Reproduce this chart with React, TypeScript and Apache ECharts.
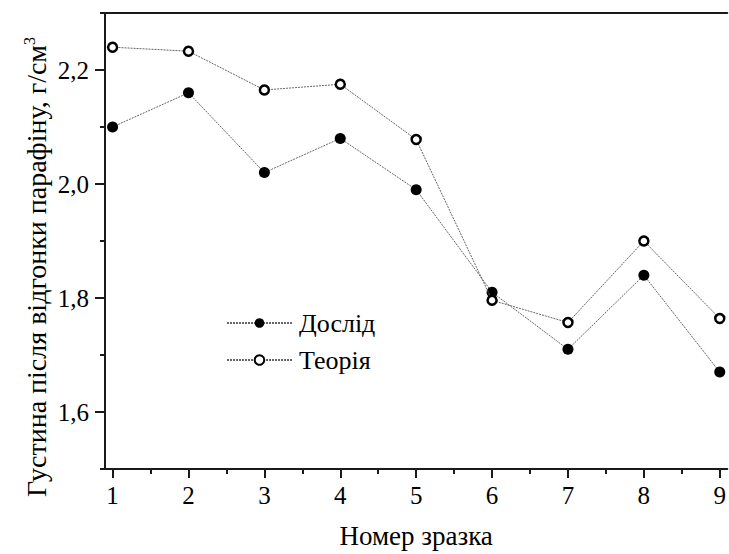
import React, { useEffect, useRef } from "react";
import * as echarts from "echarts";

const samples = [1, 2, 3, 4, 5, 6, 7, 8, 9];
const experiment = [2.1, 2.16, 2.02, 2.08, 1.99, 1.81, 1.71, 1.84, 1.67];
const theory = [2.24, 2.233, 2.165, 2.175, 2.078, 1.796, 1.757, 1.9, 1.764];
const yMajor = [1.6, 1.8, 2.0, 2.2];
const yMinor = [1.5, 1.7, 1.9, 2.1, 2.3];
const xMinor = [1.5, 2.5, 3.5, 4.5, 5.5, 6.5, 7.5, 8.5];
const seriesNames = ["Дослід", "Теорія"];
const xTitle = "Номер зразка";
const yTitle = "Густина після відгонки парафіну, г/см";

const FONT = "Liberation Serif";

export default function App() {
  const ref = useRef<HTMLDivElement>(null);
  useEffect(() => {
    if (!ref.current) return;
    const chart = echarts.init(ref.current, null, { renderer: "svg" });
    const axisLine = { show: true, lineStyle: { color: "#1a1a1a", width: 2 } };
    const lineStyle = { color: "#666", width: 1, type: [2, 1] as any };
    chart.setOption({
      animation: false,
      backgroundColor: "#fff",
      textStyle: { fontFamily: FONT },
      grid: { left: 105, right: -2, top: 13, bottom: 78, containLabel: false },
      legend: {
        orient: "vertical",
        left: 221,
        top: 305,
        itemWidth: 65,
        itemHeight: 12,
        itemGap: 11,
        data: seriesNames,
        textStyle: { fontFamily: FONT, fontSize: 26, color: "#000", padding: [0, 0, 0, 2] },
      },
      xAxis: [
        {
          type: "value",
          min: 0.9,
          max: 9.1,
          position: "bottom",
          axisLine,
          splitLine: { show: false },
          axisTick: { show: true, inside: false, length: 9, lineStyle: { color: "#1a1a1a", width: 2 }, customValues: samples },
          axisLabel: {
            customValues: samples,
            margin: 14,
            fontFamily: FONT,
            fontSize: 25,
            color: "#000",
          },
          name: xTitle,
          nameLocation: "middle",
          nameGap: 53,
          nameTextStyle: { fontFamily: FONT, fontSize: 27, color: "#000" },
        },
        {
          type: "value",
          min: 0.9,
          max: 9.1,
          position: "bottom",
          axisLine: { show: false },
          splitLine: { show: false },
          axisTick: { show: true, length: 5, lineStyle: { color: "#1a1a1a", width: 2 }, customValues: xMinor },
          axisLabel: { show: false },
        },
        {
          type: "value",
          min: 0.9,
          max: 9.1,
          position: "top",
          axisLine,
          splitLine: { show: false },
          axisTick: { show: false },
          axisLabel: { show: false },
        },
      ],
      yAxis: [
        {
          type: "value",
          min: 1.5,
          max: 2.3,
          position: "left",
          axisLine,
          splitLine: { show: false },
          axisTick: { show: true, length: 10, lineStyle: { color: "#1a1a1a", width: 2 }, customValues: yMajor },
          axisLabel: {
            customValues: yMajor,
            margin: 16,
            fontFamily: FONT,
            fontSize: 25,
            color: "#000",
            formatter: (v: number) => v.toFixed(1).replace(".", ","),
          },
        },
        {
          type: "value",
          min: 1.5,
          max: 2.3,
          position: "left",
          axisLine: { show: false },
          splitLine: { show: false },
          axisTick: { show: true, length: 5, lineStyle: { color: "#1a1a1a", width: 2 }, customValues: yMinor },
          axisLabel: { show: false },
        },
      ],
      graphic: [
        {
          type: "text",
          x: 36,
          y: 267,
          rotation: Math.PI / 2,
          style: {
            text: yTitle + "{sup|3}",
            fontFamily: FONT,
            fontSize: 28,
            fill: "#000",
            align: "center",
            verticalAlign: "middle",
            rich: {
              sup: { fontSize: 16, fontFamily: FONT, fill: "#000", verticalAlign: "top", padding: [0, 0, 14, 0] },
            },
          },
        },
      ],
      series: [
        {
          name: seriesNames[0],
          type: "line",
          xAxisIndex: 0,
          yAxisIndex: 0,
          data: samples.map((s, i) => [s, experiment[i]]),
          symbol: "circle",
          symbolSize: 11,
          itemStyle: { color: "#000", borderColor: "#000", borderWidth: 0 },
          lineStyle,
          z: 3,
        },
        {
          name: seriesNames[1],
          type: "line",
          xAxisIndex: 0,
          yAxisIndex: 0,
          data: samples.map((s, i) => [s, theory[i]]),
          symbol: "circle",
          symbolSize: 9,
          itemStyle: { color: "#fff", borderColor: "#000", borderWidth: 2.5 },
          lineStyle,
          z: 4,
        },
      ],
    });
    return () => chart.dispose();
  }, []);
  return (
    <div
      ref={ref}
      style={{ position: "fixed", left: 0, top: 0, width: 729, height: 554, background: "#fff" }}
    />
  );
}
